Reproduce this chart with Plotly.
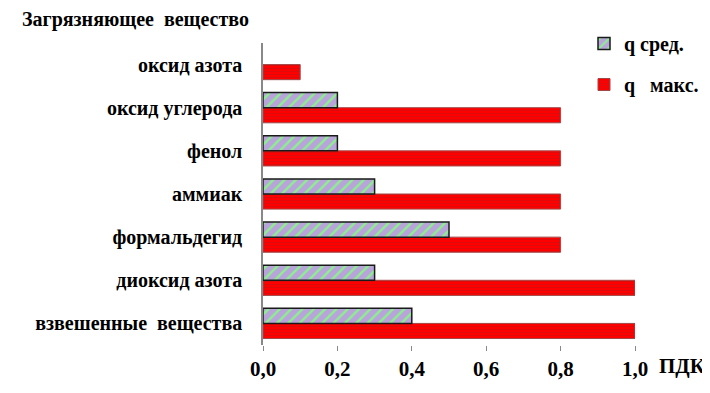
import plotly.graph_objects as go

categories = ["взвешенные  вещества", "диоксид азота", "формальдегид", "аммиак",
              "фенол", "оксид углерода", "оксид азота"]
q_avg = [0.4, 0.3, 0.5, 0.3, 0.2, 0.2, None]
q_max = [1.0, 1.0, 0.8, 0.8, 0.8, 0.8, 0.1]
x_ticks = [0, 0.2, 0.4, 0.6, 0.8, 1.0]

FONT = "Times New Roman, Liberation Serif, DejaVu Serif, serif"

# page has an 8px body margin; work in figure coords = page - 8
W, H = 702, 385
L, T, PW, PH = 255, 35, 372, 302
PB = T + PH


def px(xp):
    return (xp - 8 - L) / PW


def py(yp):
    return (PB - (yp - 8)) / PH


fig = go.Figure()
fig.add_trace(go.Bar(
    y=categories, x=q_max, orientation="h", name="q   макс.",
    legendgroup="max", legendrank=2,
    marker=dict(color="#FF0000",
                line=dict(color="#A04848", width=1),
                pattern=dict(shape="-", fgcolor="#D01010", bgcolor="#FF0000",
                             size=3, solidity=0.25, fillmode="replace")),
))
fig.add_trace(go.Bar(
    y=categories, x=q_avg, orientation="h", name="q сред.",
    legendgroup="avg", legendrank=1,
    marker=dict(color="#B8A4DA",
                line=dict(color="#1a1a1a", width=1.5),
                pattern=dict(shape="/", fgcolor="#8CF08C", bgcolor="#B8A4DA",
                             size=8, solidity=0.3, fillmode="replace")),
))

fig.update_layout(
    width=W, height=H,
    margin=dict(l=L, r=W - L - PW, t=T, b=H - PB, autoexpand=False),
    paper_bgcolor="white", plot_bgcolor="white",
    barmode="group", bargap=0.3, bargroupgap=0,
    separators=",.",
    font=dict(family=FONT, size=16, color="black"),
    showlegend=True,
    legend=dict(x=px(584), y=py(24), xanchor="left", yanchor="top",
                font=dict(family=FONT, size=20, color="black", weight="bold"),
                tracegroupgap=12, bgcolor="rgba(0,0,0,0)",
                itemwidth=30),
    xaxis=dict(range=[0, 1.0], tickvals=x_ticks, tickformat=".1f",
               automargin=False,
               showgrid=False, zeroline=False, showline=False,
               ticks="outside", ticklen=5, tickcolor="#888888",
               tickfont=dict(family=FONT, size=21, color="black", weight="bold")),
    yaxis=dict(showgrid=False, zeroline=False, showline=True,
               automargin=False,
               linecolor="#888888", linewidth=1.5,
               ticks="", ticklabelstandoff=15,
               tickfont=dict(family=FONT, size=20, color="black", weight="bold")),
    annotations=[
        dict(text="<b>Загрязняющее  вещество</b>", xref="paper", yref="paper",
             x=px(20), y=py(20), xanchor="left", yanchor="middle",
             showarrow=False, font=dict(family=FONT, size=20, color="black")),
        dict(text="<b>ПДК</b>", xref="paper", yref="paper",
             x=px(657), y=py(366), xanchor="left", yanchor="middle",
             showarrow=False, font=dict(family=FONT, size=21, color="black")),
    ],
)

fig.write_html("out.html")
